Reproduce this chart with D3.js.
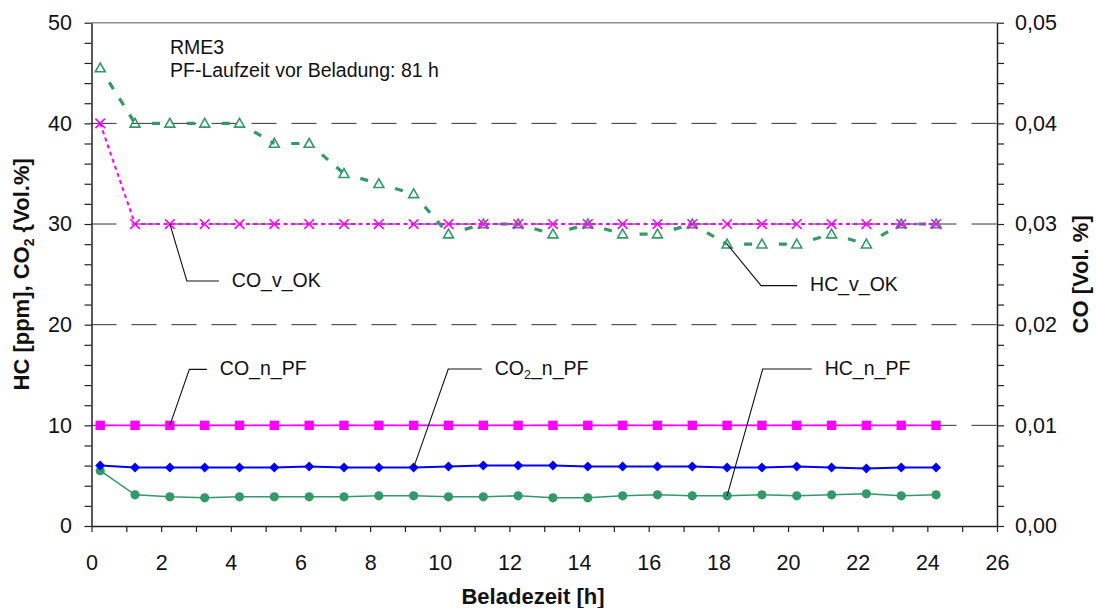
<!DOCTYPE html>
<html>
<head>
<meta charset="utf-8">
<script src="https://cdn.jsdelivr.net/npm/d3@7"></script>
<style>
  body { margin: 0; background: #fff; }
  svg { display: block; font-family: "Liberation Sans", Arial, sans-serif; }
</style>
</head>
<body>
<svg id="chart" width="1096" height="608"></svg>
<script>
// Beladezeit [h] of each measurement
const hours = [0.25, 1.25, 2.25, 3.25, 4.25, 5.25, 6.25, 7.25, 8.25, 9.25, 10.25, 11.25, 12.25,
               13.25, 14.25, 15.25, 16.25, 17.25, 18.25, 19.25, 20.25, 21.25, 22.25, 23.25, 24.25];

// left axis: HC [ppm], CO2 [Vol.%]
const hcNachPF  = [5.5, 3.1, 2.9, 2.8, 2.9, 2.9, 2.9, 2.9, 3.0, 3.0, 2.9, 2.9, 3.0,
                   2.8, 2.8, 3.0, 3.1, 3.0, 3.0, 3.1, 3.0, 3.1, 3.2, 3.0, 3.1];
const co2NachPF = [6.0, 5.8, 5.8, 5.8, 5.8, 5.8, 5.9, 5.8, 5.8, 5.8, 5.9, 6.0, 6.0,
                   6.0, 5.9, 5.9, 5.9, 5.9, 5.8, 5.8, 5.9, 5.8, 5.7, 5.8, 5.8];
const hcVorOK   = [45.5, 40, 40, 40, 40, 38, 38, 35, 34, 33, 29, 30, 30,
                   29, 30, 29, 29, 30, 28, 28, 28, 29, 28, 30, 30];

// right axis: CO [Vol.%]
const coNachPF  = [0.01, 0.01, 0.01, 0.01, 0.01, 0.01, 0.01, 0.01, 0.01, 0.01, 0.01, 0.01, 0.01,
                   0.01, 0.01, 0.01, 0.01, 0.01, 0.01, 0.01, 0.01, 0.01, 0.01, 0.01, 0.01];
const coVorOK   = [0.04, 0.03, 0.03, 0.03, 0.03, 0.03, 0.03, 0.03, 0.03, 0.03, 0.03, 0.03, 0.03,
                   0.03, 0.03, 0.03, 0.03, 0.03, 0.03, 0.03, 0.03, 0.03, 0.03, 0.03, 0.03];

// axis ticks
const xTicks = [0, 1, 2, 3, 4, 5, 6, 7, 8, 9, 10, 11, 12, 13, 14, 15, 16, 17, 18, 19, 20, 21, 22, 23, 24, 25, 26];
const xTickLabels = [0, 2, 4, 6, 8, 10, 12, 14, 16, 18, 20, 22, 24, 26];
const yLeftTicks = [0, 2, 4, 6, 8, 10, 12, 14, 16, 18, 20, 22, 24, 26, 28, 30, 32, 34, 36, 38, 40, 42, 44, 46, 48, 50];
const yLeftTickLabels = [0, 10, 20, 30, 40, 50];
const yRightTicks = [0, 0.002, 0.004, 0.006, 0.008, 0.01, 0.012, 0.014, 0.016, 0.018, 0.02, 0.022, 0.024,
                     0.026, 0.028, 0.03, 0.032, 0.034, 0.036, 0.038, 0.04, 0.042, 0.044, 0.046, 0.048, 0.05];
const yRightTickLabels = [0, 0.01, 0.02, 0.03, 0.04, 0.05];
const gridValues = [10, 20, 30, 40];

const GREEN = "#339966", MAGENTA = "#ff00ff", BLUE = "#0000ff", INK = "#222";
const FONT = "'Liberation Sans', Arial, sans-serif";

const svg = d3.select("#chart");
const x  = d3.scaleLinear([0, 26], [91.5, 997]);
const yL = d3.scaleLinear([0, 50], [526, 22.7]);
const yR = d3.scaleLinear([0, 0.05], [526, 22.7]);
const deFmt = d3.formatLocale({ decimal: ",", thousands: ".", grouping: [3], currency: ["", " €"] }).format(".2f");

// dashed horizontal gridlines and top frame
svg.append("g").selectAll("line").data(gridValues).join("line")
  .attr("x1", x(0)).attr("x2", x(26))
  .attr("y1", d => yL(d)).attr("y2", d => yL(d))
  .attr("stroke", "#333").attr("stroke-width", 1)
  .attr("stroke-dasharray", "25,15");
svg.append("line")
  .attr("x1", x(0)).attr("x2", x(26)).attr("y1", yL(50)).attr("y2", yL(50))
  .attr("stroke", "#8f8f8f").attr("stroke-width", 1.6);

function styleAxis(g) {
  g.attr("font-family", FONT).attr("font-size", 21.5);
  g.select(".domain").attr("stroke", INK).attr("stroke-width", 1.5);
  g.selectAll(".tick line").attr("stroke", INK).attr("stroke-width", 1.2);
  g.selectAll(".tick text").attr("fill", "#111");
}

// left axis
svg.append("g").attr("transform", `translate(${x(0)},0)`)
  .call(d3.axisLeft(yL).tickValues(yLeftTicks).tickSize(7).tickSizeOuter(0).tickPadding(12.5)
    .tickFormat(d => yLeftTickLabels.includes(d) ? d : ""))
  .call(styleAxis);

// right axis
svg.append("g").attr("transform", `translate(${x(26)},0)`)
  .call(d3.axisRight(yR).tickValues(yRightTicks).tickSize(7).tickSizeOuter(0).tickPadding(11)
    .tickFormat(d => yRightTickLabels.some(v => Math.abs(v - d) < 1e-9) ? deFmt(d) : ""))
  .call(styleAxis);

// bottom axis
const gx = svg.append("g").attr("transform", `translate(0,${yL(0)})`)
  .call(d3.axisBottom(x).tickValues(xTicks).tickSize(6).tickSizeOuter(0)
    .tickFormat(d => xTickLabels.includes(d) ? d : ""))
  .call(styleAxis);
gx.selectAll(".tick text").attr("y", 44).attr("dy", null);

// axis titles
svg.append("text")
  .attr("x", 533).attr("y", 604).attr("text-anchor", "middle")
  .attr("font-family", FONT).attr("font-size", 22).attr("font-weight", "bold").attr("fill", "#111")
  .text("Beladezeit [h]");

const tL = svg.append("text")
  .attr("transform", `translate(21,${(yL(0) + yL(50)) / 2}) rotate(-90)`)
  .attr("text-anchor", "middle").attr("dy", "0.36em")
  .attr("font-family", FONT).attr("font-size", 22).attr("font-weight", "bold").attr("fill", "#111");
tL.append("tspan").text("HC [ppm], CO");
tL.append("tspan").attr("font-size", 14).attr("dy", 5).text("2");
tL.append("tspan").attr("dy", -5).text(" {Vol.%]");

svg.append("text")
  .attr("transform", `translate(1080,${(yL(0) + yL(50)) / 2}) rotate(-90)`)
  .attr("text-anchor", "middle").attr("dy", "0.36em")
  .attr("font-family", FONT).attr("font-size", 22).attr("font-weight", "bold").attr("fill", "#111")
  .text("CO [Vol. %]");

// series
const pts = (vals, scale) => vals.map((v, i) => [x(hours[i]), scale(v)]);
const lineGen = d3.line();

const hcN  = pts(hcNachPF, yL);
const co2N = pts(co2NachPF, yL);
const coN  = pts(coNachPF, yR);
const hcV  = pts(hcVorOK, yL);
const coV  = pts(coVorOK, yR);

// HC_n_PF: green circles
svg.append("path").attr("d", lineGen(hcN)).attr("fill", "none")
  .attr("stroke", GREEN).attr("stroke-width", 1.6);
svg.append("g").selectAll("circle").data(hcN).join("circle")
  .attr("cx", d => d[0]).attr("cy", d => d[1]).attr("r", 4.6).attr("fill", GREEN);

// CO2_n_PF: blue diamonds
svg.append("path").attr("d", lineGen(co2N)).attr("fill", "none")
  .attr("stroke", BLUE).attr("stroke-width", 2);
svg.append("g").selectAll("path").data(co2N).join("path")
  .attr("d", d => `M${d[0]},${d[1] - 5}L${d[0] + 5},${d[1]}L${d[0]},${d[1] + 5}L${d[0] - 5},${d[1]}Z`)
  .attr("fill", BLUE);

// CO_n_PF: magenta squares
svg.append("path").attr("d", lineGen(coN)).attr("fill", "none")
  .attr("stroke", MAGENTA).attr("stroke-width", 1.6);
svg.append("g").selectAll("rect").data(coN).join("rect")
  .attr("x", d => d[0] - 4.7).attr("y", d => d[1] - 4.7)
  .attr("width", 9.4).attr("height", 9.4).attr("fill", MAGENTA);

// HC_v_OK: thick dashed green with open triangles, dash pattern restarting on every segment
svg.append("g").selectAll("path").data(d3.pairs(hcV)).join("path")
  .attr("d", d => lineGen(d)).attr("fill", "none")
  .attr("stroke", GREEN).attr("stroke-width", 3.2)
  .attr("stroke-dasharray", "0,17,8,11,8,11,8,11,8,11,8,400");
svg.append("g").selectAll("path").data(hcV).join("path")
  .attr("d", d => `M${d[0]},${d[1] - 5}L${d[0] + 5},${d[1] + 3.8}L${d[0] - 5},${d[1] + 3.8}Z`)
  .attr("fill", "none").attr("stroke", GREEN).attr("stroke-width", 1.6);

// CO_v_OK: dotted magenta with crosses
svg.append("path").attr("d", lineGen(coV)).attr("fill", "none")
  .attr("stroke", MAGENTA).attr("stroke-width", 2).attr("stroke-dasharray", "4,3.5");
svg.append("g").selectAll("path").data(coV).join("path")
  .attr("d", d => `M${d[0] - 4.8},${d[1] - 4.8}L${d[0] + 4.8},${d[1] + 4.8}M${d[0] + 4.8},${d[1] - 4.8}L${d[0] - 4.8},${d[1] + 4.8}`)
  .attr("stroke", MAGENTA).attr("stroke-width", 1.6);

// series labels with leader lines
const labels = [
  { pts: coV,  i: 2,  dx: 17,   dy: 57,    len: 32, text: ["CO_v_OK"] },
  { pts: hcV,  i: 18, dx: 34,   dy: 41.5,  len: 36, text: ["HC_v_OK"] },
  { pts: coN,  i: 2,  dx: 19.5, dy: -56,   len: 17.5, text: ["CO_n_PF"] },
  { pts: co2N, i: 9,  dx: 34.6, dy: -98.6, len: 33.5, text: ["CO", "2", "_n_PF"] },
  { pts: hcN,  i: 18, dx: 35.6, dy: -126.8, len: 49, text: ["HC_n_PF"] }
];
labels.forEach(l => {
  const [ax, ay] = l.pts[l.i];
  const ex = ax + l.dx, ey = ay + l.dy;
  svg.append("path")
    .attr("d", `M${ax},${ay}L${ex},${ey}L${ex + l.len},${ey}`)
    .attr("fill", "none").attr("stroke", "#111").attr("stroke-width", 1.1);
  const t = svg.append("text")
    .attr("x", ex + l.len + 13).attr("y", ey + 5.5)
    .attr("font-family", FONT).attr("font-size", 19.5).attr("fill", "#111");
  if (l.text.length === 1) {
    t.text(l.text[0]);
  } else {
    t.append("tspan").text(l.text[0]);
    t.append("tspan").attr("font-size", 12.5).attr("dy", 4).text(l.text[1]);
    t.append("tspan").attr("dy", -4).text(l.text[2]);
  }
});

// test description
svg.append("text").attr("x", 170).attr("y", 54)
  .attr("font-family", FONT).attr("font-size", 19.5).attr("fill", "#111").text("RME3");
svg.append("text").attr("x", 170).attr("y", 77)
  .attr("font-family", FONT).attr("font-size", 19.5).attr("fill", "#111").text("PF-Laufzeit vor Beladung: 81 h");
</script>
</body>
</html>
